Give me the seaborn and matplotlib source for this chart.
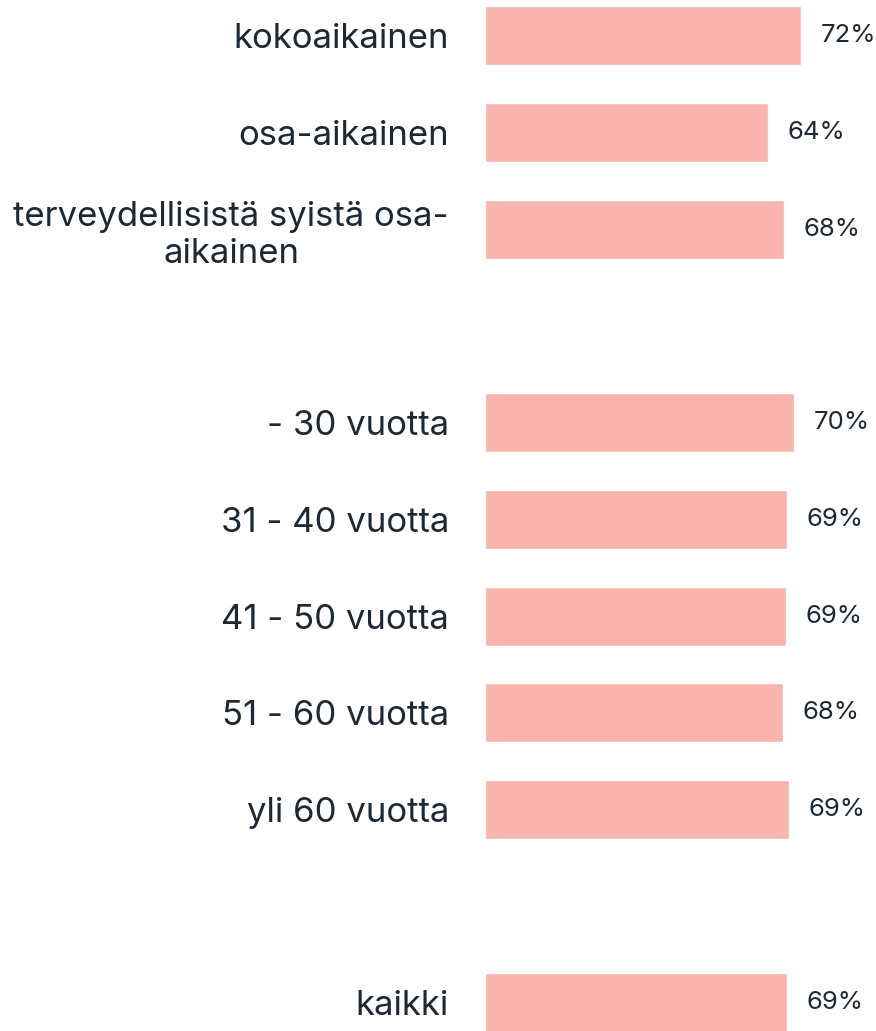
import matplotlib
matplotlib.use("Agg")
import matplotlib.pyplot as plt
import seaborn as sns
import pandas as pd

# ── DATA ───────────────────────────────────────────────
categories = ["kokoaikainen", "osa-aikainen",
              "terveydellisistä syistä osa-\naikainen",
              "gap1",
              "- 30 vuotta", "31 - 40 vuotta", "41 - 50 vuotta",
              "51 - 60 vuotta", "yli 60 vuotta",
              "gap2",
              "kaikki"]
bar_labels = ["kokoaikainen", "osa-aikainen", "terveydellisistä syistä osa-\naikainen",
              "- 30 vuotta", "31 - 40 vuotta", "41 - 50 vuotta",
              "51 - 60 vuotta", "yli 60 vuotta", "kaikki"]
values = [71.9, 64.4, 68.1, 70.4, 68.8, 68.6, 67.9, 69.2, 68.8]
value_text = ["72%", "64%", "68%", "70%", "69%", "69%", "68%", "69%", "69%"]

df = pd.DataFrame({"group": bar_labels, "share": values})

BAR = "#FAB4AE"
TEXT = "#1C2833"

sns.set_theme(style="white")
plt.rcParams["font.family"] = ["Inter", "DejaVu Sans"]

fig = plt.figure(figsize=(8.76, 10.31), dpi=100)
ax = fig.add_axes([485 / 876, 0, 1 - 485 / 876, 1])

sns.barplot(data=df, x="share", y="group", order=categories, color=BAR,
            saturation=1, width=0.61, orient="h", ax=ax)

ax.set_xlim(0, 89)
ax.set_ylim(10.29, -0.372)
ax.set_xlabel("")
ax.set_ylabel("")
ax.set_xticks([])
ax.set_yticks(range(len(categories)))
ax.set_yticklabels([c if not c.startswith("gap") else "" for c in categories],
                   fontsize=25, color=TEXT, multialignment="center")
ax.tick_params(axis="y", length=0, pad=26)
sns.despine(ax=ax, left=True, bottom=True)

# value labels
for cont in ax.containers:
    ax.bar_label(cont, labels=value_text, padding=14, fontsize=18.5, color=TEXT)

plt.savefig("out.png", dpi=100)
